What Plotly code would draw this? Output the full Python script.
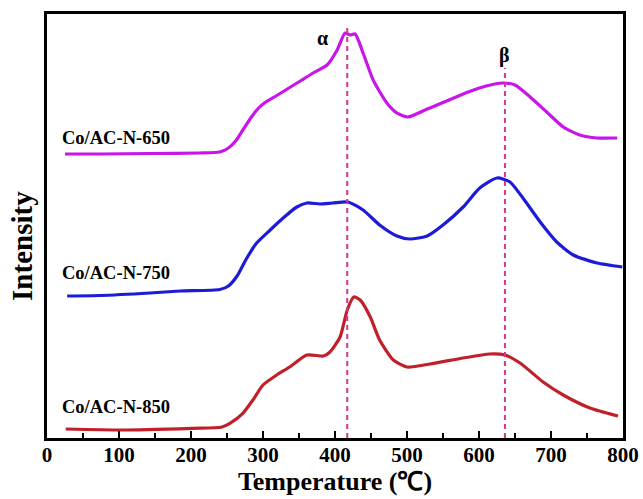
import plotly.graph_objects as go

# Temperature (°C) and intensity (a.u., offset stack)
t_650 = [25, 74, 143, 212, 240, 252, 262, 272, 284, 294, 302, 318, 336, 354, 372, 389, 403, 414, 421, 428,
         439, 453, 472, 486, 501, 525, 555, 585, 610, 633, 650, 671, 694, 717, 740, 764, 792]
i_650 = [284, 284, 284.5, 285, 286, 290, 297, 308, 321, 330, 335, 342, 350, 358, 366, 373, 388, 405, 403, 404,
         385, 358, 335, 325, 321, 328, 337, 346, 352, 355, 353, 341, 326, 311, 303, 300, 300]

t_750 = [28, 74, 143, 185, 240, 252, 264, 276, 290, 310, 328, 347, 361, 379, 397, 418, 439, 462, 486,
         504, 528, 550, 578, 601, 625, 643, 661, 685, 708, 731, 764, 799]
i_750 = [142, 142.5, 145, 147, 148.5, 152, 162, 178, 194, 208, 220, 231, 235, 234, 235, 236, 228, 213, 202,
         199, 202, 213, 231, 250, 260, 256, 240, 216, 196, 183, 175, 171]

t_850 = [26, 106, 202, 242, 254, 272, 286, 300, 319, 337, 361, 384, 393, 407, 417, 426, 435, 449,
         462, 481, 500, 532, 578, 615, 636, 657, 689, 717, 754, 793]
i_850 = [9, 8, 9.7, 10.7, 14.7, 24.7, 38, 53, 63, 71, 83, 82, 86, 101, 128, 141, 138, 121,
         98, 78, 71, 74, 80, 84, 83, 75, 56, 43, 30, 22]

series_names = ["Co/AC-N-650", "Co/AC-N-750", "Co/AC-N-850"]
series_colors = ["#c815e8", "#1c1cd6", "#c0202a"]
label_pos = [(18, 300), (18, 165), (18, 31)]

peak_alpha = 417
peak_beta = 636

fig = go.Figure()
for (tx, iy), name, col in zip([(t_650, i_650), (t_750, i_750), (t_850, i_850)], series_names, series_colors):
    fig.add_trace(go.Scatter(x=tx, y=iy, mode="lines", name=name,
                             line=dict(color=col, width=3.2, shape="spline", smoothing=0.6),
                             showlegend=False))

dash_col = "#d6358c"
fig.add_trace(go.Scatter(x=[peak_alpha, peak_alpha], y=[0, 412], mode="lines",
                         line=dict(color=dash_col, width=2, dash="5px,4px"), showlegend=False))
fig.add_trace(go.Scatter(x=[peak_beta, peak_beta], y=[0, 370], mode="lines",
                         line=dict(color=dash_col, width=2, dash="5px,4px"), showlegend=False))

font_b = "Liberation Serif"
ann = []
for name, (lx, ly) in zip(series_names, label_pos):
    ann.append(dict(x=lx, y=ly, xref="x", yref="y", text="<b>%s</b>" % name, showarrow=False,
                    xanchor="left", yanchor="middle", font=dict(family=font_b, size=18.5, color="black")))
ann.append(dict(x=383, y=400, xref="x", yref="y", text="<b>α</b>", showarrow=False,
                font=dict(family=font_b, size=20, color="black")))
ann.append(dict(x=peak_beta, y=383, xref="x", yref="y", text="<b>β</b>", showarrow=False,
                font=dict(family=font_b, size=20, color="black")))
ann.append(dict(x=-25 / 576, y=0.453, xref="paper", yref="paper", text="<b>Intensity</b>", showarrow=False,
                textangle=-90, xanchor="center", yanchor="middle",
                font=dict(family=font_b, size=29, color="black")))

fig.update_layout(
    width=643, height=499,
    margin=dict(l=47, r=20, t=14, b=61, autoexpand=False),
    paper_bgcolor="white", plot_bgcolor="white",
    annotations=ann,
    xaxis=dict(range=[0, 800], tickmode="array", tickvals=list(range(0, 801, 100)),
               ticktext=[str(v) for v in range(0, 801, 100)],
               ticks="inside", ticklen=7, tickwidth=2, tickcolor="black",
               minor=dict(tickvals=list(range(50, 800, 100)), ticks="inside", ticklen=5, tickwidth=2, tickcolor="black"),
               showline=True, linecolor="black", linewidth=3, mirror=True,
               showgrid=False, zeroline=False, automargin=False, ticklabelstandoff=-4,
               tickfont=dict(family=font_b, size=21, color="black", weight="bold"),
               title=dict(text="<b>Temperature (℃)</b>", font=dict(family=font_b, size=26, color="black"), standoff=0)),
    yaxis=dict(range=[0, 424], showticklabels=False, ticks="",
               showline=True, linecolor="black", linewidth=3, mirror=True,
               showgrid=False, zeroline=False, automargin=False),
)

fig.write_html("out.html")
